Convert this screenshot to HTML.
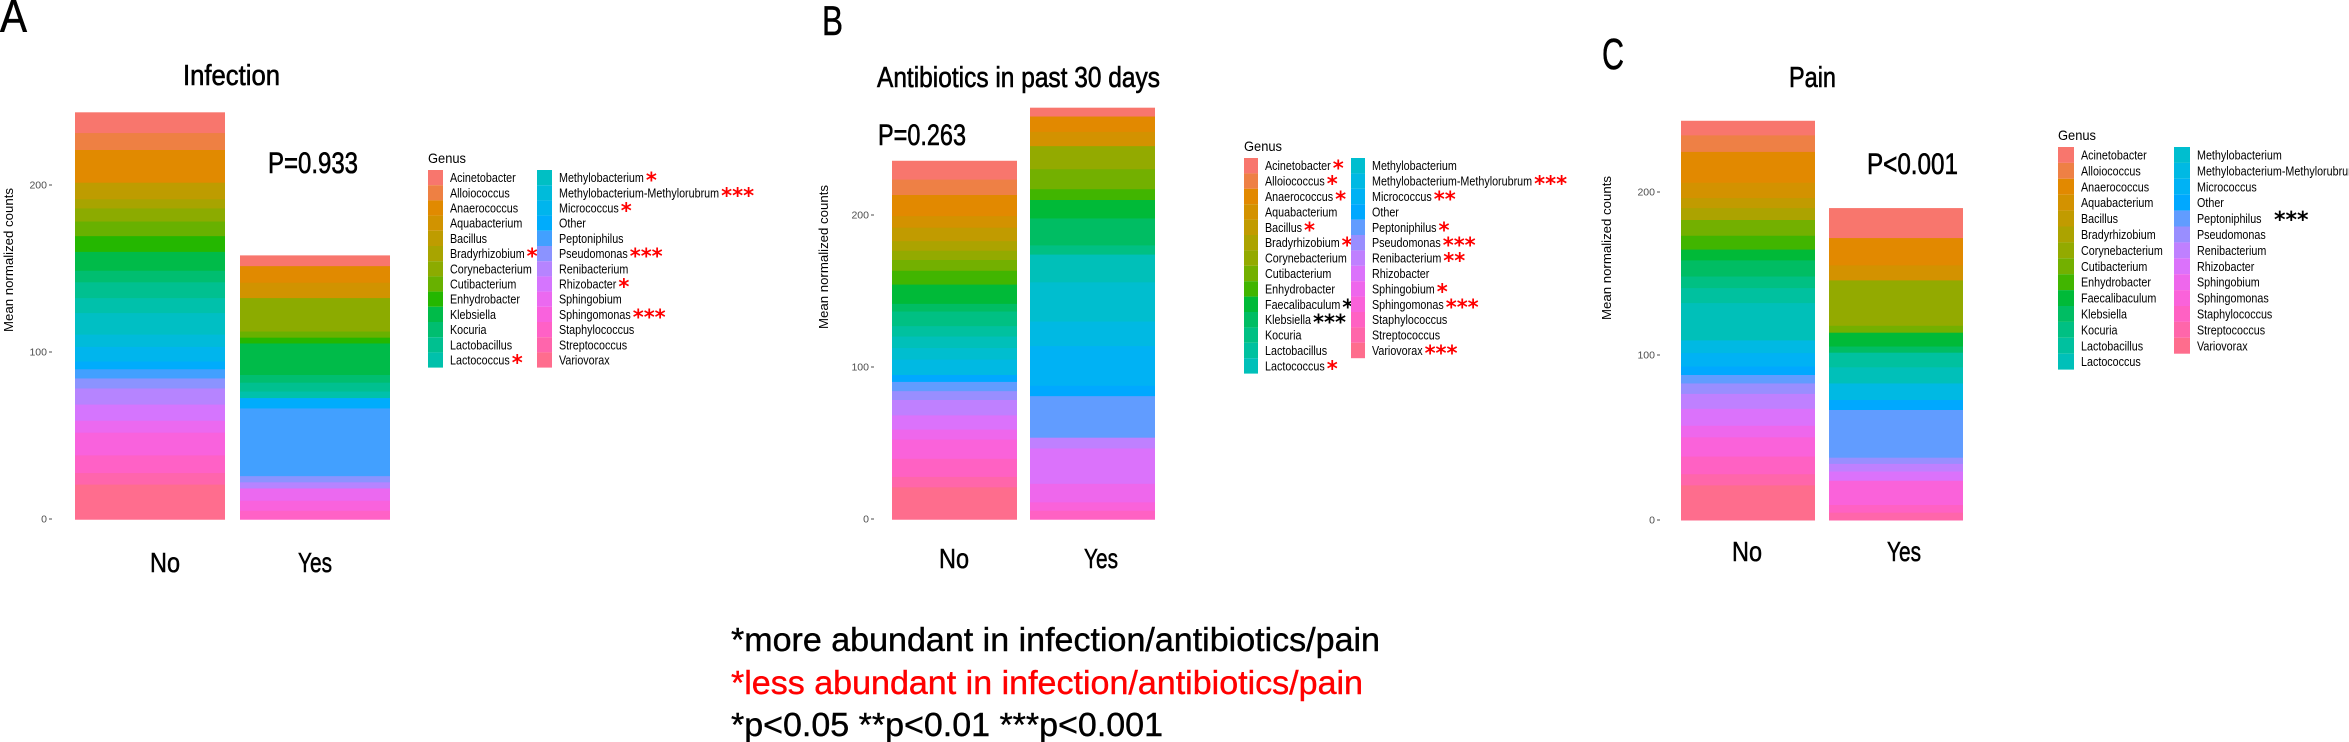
<!DOCTYPE html>
<html><head><meta charset="utf-8"><style>
html,body{margin:0;padding:0;background:#fff;}
svg{display:block;}
</style></head><body>
<svg id="s" width="2349" height="742" xmlns="http://www.w3.org/2000/svg" font-family="Liberation Sans, sans-serif"></svg>
<script>
const S=document.getElementById('s');
const NS='http://www.w3.org/2000/svg';
function el(t,a,txt){const e=document.createElementNS(NS,t);for(const k in a)e.setAttribute(k,a[k]);if(txt!==undefined)e.textContent=txt;S.appendChild(e);return e;}
function hcl2hex(h,c,l){const hr=h*Math.PI/180;const L=l,U=c*Math.cos(hr),V=c*Math.sin(hr);
 const Xn=95.047,Yn=100,Zn=108.883;const un=4*Xn/(Xn+15*Yn+3*Zn),vn=9*Yn/(Xn+15*Yn+3*Zn);
 const Y=L>8?Yn*Math.pow((L+16)/116,3):Yn*L/903.3;const u=U/(13*L)+un,v=V/(13*L)+vn;
 const X=9*Y*u/(4*v),Z=-X/3-5*Y+3*Y/v;const x=X/100,y=Y/100,z=Z/100;
 let r=3.240479*x-1.53715*y-0.498535*z,g=-0.969256*x+1.875992*y+0.041556*z,b=0.055648*x-0.204043*y+1.057311*z;
 const f=c=>{c=c<=0.0031308?12.92*c:1.055*Math.pow(c,1/2.4)-0.055;return Math.round(Math.max(0,Math.min(1,c))*255);};
 return 'rgb('+f(r)+','+f(g)+','+f(b)+')';}
function pal(n){const a=[];for(let i=0;i<n;i++)a.push(hcl2hex(15+360*i/n,100,65));return a;}
const G27=['Acinetobacter','Alloiococcus','Anaerococcus','Aquabacterium','Bacillus','Bradyrhizobium','Corynebacterium','Cutibacterium','Enhydrobacter','Faecalibaculum','Klebsiella','Kocuria','Lactobacillus','Lactococcus','Methylobacterium','Methylobacterium-Methylorubrum','Micrococcus','Other','Peptoniphilus','Pseudomonas','Renibacterium','Rhizobacter','Sphingobium','Sphingomonas','Staphylococcus','Streptococcus','Variovorax'];
const G26=G27.filter(g=>g!=='Faecalibaculum');
function cmap(list){const p=pal(list.length);const m={};list.forEach((g,i)=>m[g]=p[i]);return m;}
const CA=cmap(G26),CB=cmap(G27);
function text(x,y,s,size,opts={}){const a={x:x,y:y,'font-size':size,fill:opts.fill||'#000'};if(opts.anchor)a['text-anchor']=opts.anchor;if(opts.family)a['font-family']=opts.family;if(opts.tr)a.transform=opts.tr;if(opts.bold)a['font-weight']='bold';if(opts.stroke){a.stroke=opts.fill||'#000';a['stroke-width']=opts.stroke;}const t=el('text',a,s);
 if(opts.w){t.setAttribute('textLength',opts.w);t.setAttribute('lengthAdjust','spacingAndGlyphs');}return t;}
function bar(x,w,segs,cm){
 const b=segs.b,n=segs.n;for(let i=0;i<n.length;i++){const y1=b[i]/2.6,y2=b[i+1]/2.6;el('rect',{x:x,y:y1,width:w,height:y2-y1+0.5,fill:cm[n[i]]});}}
function axis(tx,ys,lx,ly){[['200',ys[0]],['100',ys[1]],['0',ys[2]]].forEach(([l,y])=>{text(tx-3,y+3.5,l,10.5,{fill:'#4d4d4d',anchor:'end'});el('line',{x1:tx-1,x2:tx+2,y1:y,y2:y,stroke:'#4d4d4d','stroke-width':1});});
 text(0,0,'Mean normalized counts',13,{anchor:'middle',tr:'translate('+lx+','+ly+') rotate(-90)',w:144});}
function legend(x,gy,y0,step,col1,col2,x2,sw,cm,stars){
 text(x,gy+5,'Genus',14,{w:38});
 [[col1,x],[col2,x2]].forEach(([list,cx])=>{list.forEach((g,i)=>{const y=y0+i*step;el('rect',{x:cx,y:y,width:sw,height:step,fill:cm[g]});
  const t=text(cx+sw+7,y+step/2+4.5,g,12.5);const w=t.getComputedTextLength()*0.86;t.setAttribute('textLength',w);t.setAttribute('lengthAdjust','spacingAndGlyphs');
  if(stars[g]){const[s,c]=stars[g];text(cx+sw+7+w+2,y+step/2+10,s,21,{fill:c,family:'DejaVu Sans, sans-serif',bold:1});}});});}
// Panel letters
text(0,32,'A',46,{w:27,stroke:0.5});text(822,35,'B',42,{w:21,stroke:0.5});text(1602,69,'C',44,{w:22,stroke:0.5});
// Titles
text(183,85,'Infection',29,{w:97,stroke:0.6});text(877,87,'Antibiotics in past 30 days',29,{w:283,stroke:0.6});text(1789,87,'Pain',29,{w:47,stroke:0.6});
// P values
text(268,173,'P=0.933',30,{w:90,stroke:0.6});text(878,145,'P=0.263',30,{w:88,stroke:0.6});text(1867,174,'P<0.001',30,{w:91,stroke:0.6});
// Panel A
bar(75,150,{b:[292,346,390,475,518,542,576,614,655,704,734,775,814,870,902,940,960,984,1010,1052,1094,1125,1184,1230,1260,1350],
 n:['Acinetobacter','Alloiococcus','Anaerococcus','Bacillus','Bradyrhizobium','Corynebacterium','Cutibacterium','Enhydrobacter','Klebsiella','Kocuria','Lactobacillus','Lactococcus','Methylobacterium','Methylobacterium-Methylorubrum','Micrococcus','Other','Peptoniphilus','Pseudomonas','Renibacterium','Rhizobacter','Sphingobium','Sphingomonas','Staphylococcus','Streptococcus','Variovorax']},CA);
bar(240,150,{b:[664,692,735,775,862,878,893,975,995,1018,1035,1062,1238,1254,1270,1302,1328,1350],
 n:['Acinetobacter','Anaerococcus','Aquabacterium','Corynebacterium','Cutibacterium','Enhydrobacter','Klebsiella','Kocuria','Lactobacillus','Lactococcus','Other','Peptoniphilus','Pseudomonas','Renibacterium','Sphingobium','Sphingomonas','Staphylococcus']},CA);
axis(50,[185,352,519],13,260);
const R='#f00',K='#000';
legend(428,158,170,15.2,G26.slice(0,13),G26.slice(13),537,15,CA,
 {Bradyrhizobium:['*',R],Lactococcus:['*',R],Methylobacterium:['*',R],'Methylobacterium-Methylorubrum':['***',R],Micrococcus:['*',R],Pseudomonas:['***',R],Rhizobacter:['*',R],Sphingomonas:['***',R]});
text(165,572,'No',28,{anchor:'middle',w:30,stroke:0.5});text(315,572,'Yes',28,{anchor:'middle',w:34,stroke:0.5});
// Panel B
bar(892,125,{b:[418,467,507,562,592,627,652,676,704,740,790,810,848,875,905,935,975,993,1017,1040,1080,1117,1143,1193,1240,1267,1350],
 n:['Acinetobacter','Alloiococcus','Anaerococcus','Aquabacterium','Bacillus','Bradyrhizobium','Corynebacterium','Cutibacterium','Enhydrobacter','Faecalibaculum','Klebsiella','Kocuria','Lactobacillus','Lactococcus','Methylobacterium','Methylobacterium-Methylorubrum','Other','Peptoniphilus','Pseudomonas','Renibacterium','Rhizobacter','Sphingobium','Sphingomonas','Staphylococcus','Streptococcus','Variovorax']},CB);
bar(1030,125,{b:[280,303,343,380,440,492,520,568,638,662,734,836,900,1003,1030,1138,1166,1258,1306,1328,1350],
 n:['Acinetobacter','Anaerococcus','Aquabacterium','Corynebacterium','Cutibacterium','Enhydrobacter','Faecalibaculum','Klebsiella','Kocuria','Lactococcus','Methylobacterium','Methylobacterium-Methylorubrum','Micrococcus','Other','Peptoniphilus','Renibacterium','Rhizobacter','Sphingobium','Sphingomonas','Staphylococcus']},CB);
axis(872,[215,367,519],828,257);
legend(1244,146,158,15.4,G27.slice(0,14),G27.slice(14),1351,14,CB,
 {Acinetobacter:['*',R],Alloiococcus:['*',R],Anaerococcus:['*',R],Bacillus:['*',R],Bradyrhizobium:['**',R],Faecalibaculum:['*',K],Klebsiella:['***',K],Lactococcus:['*',R],'Methylobacterium-Methylorubrum':['***',R],Micrococcus:['**',R],Peptoniphilus:['*',R],Pseudomonas:['***',R],Renibacterium:['**',R],Sphingobium:['*',R],Sphingomonas:['***',R],Variovorax:['***',R]});
text(954,568,'No',28,{anchor:'middle',w:30,stroke:0.5});text(1101,568,'Yes',28,{anchor:'middle',w:34,stroke:0.5});
// Panel C
bar(1681,134,{b:[314,352,395,475,515,541,572,613,649,677,719,749,788,885,918,953,975,997,1024,1063,1107,1137,1187,1233,1262,1352],
 n:['Acinetobacter','Alloiococcus','Anaerococcus','Aquabacterium','Bacillus','Bradyrhizobium','Cutibacterium','Enhydrobacter','Faecalibaculum','Klebsiella','Kocuria','Lactobacillus','Lactococcus','Methylobacterium-Methylorubrum','Micrococcus','Other','Peptoniphilus','Pseudomonas','Renibacterium','Rhizobacter','Sphingobium','Sphingomonas','Staphylococcus','Streptococcus','Variovorax']},CB);
bar(1829,134,{b:[541,619,690,729,847,865,901,917,955,997,1040,1066,1190,1206,1226,1250,1313,1333,1352],
 n:['Acinetobacter','Anaerococcus','Aquabacterium','Corynebacterium','Cutibacterium','Faecalibaculum','Klebsiella','Lactobacillus','Lactococcus','Methylobacterium-Methylorubrum','Other','Peptoniphilus','Pseudomonas','Renibacterium','Rhizobacter','Sphingomonas','Staphylococcus','Streptococcus']},CB);
axis(1658,[192,355,520],1611,248);
legend(2058,135,147,15.9,G27.slice(0,14),G27.slice(14),2174,16,CB,{});
text(2274,227,'***',22,{family:'DejaVu Sans, sans-serif',bold:1});
text(1747,561,'No',28,{anchor:'middle',w:30,stroke:0.5});text(1904,561,'Yes',28,{anchor:'middle',w:34,stroke:0.5});
// Footnotes
text(731,651,'*more abundant in infection/antibiotics/pain',33,{w:649,stroke:0.4});
text(731,694,'*less abundant in infection/antibiotics/pain',33,{w:632,fill:'#f00',stroke:0.4});
text(731,736,'*p<0.05 **p<0.01 ***p<0.001',33,{w:432,stroke:0.4});
</script>
</body></html>
